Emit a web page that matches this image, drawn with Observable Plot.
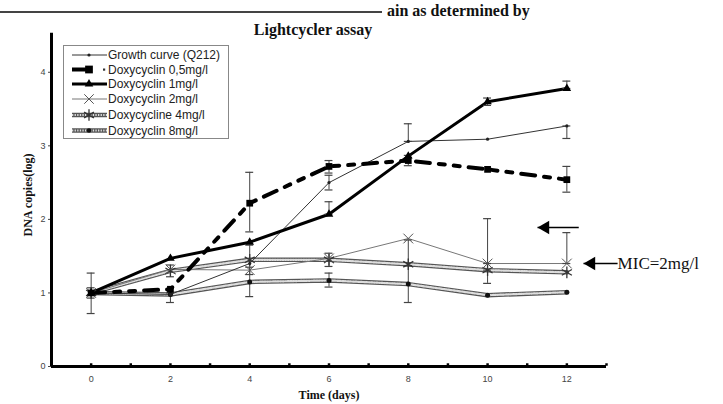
<!DOCTYPE html>
<html>
<head>
<meta charset="utf-8">
<script src="https://cdn.jsdelivr.net/npm/d3@7"></script>
<script src="https://cdn.jsdelivr.net/npm/@observablehq/plot@0.6"></script>
<style>
  html, body { margin: 0; padding: 0; background: #fff; }
  #wrap { position: relative; width: 723px; height: 404px; overflow: hidden; background: #fff; }
  #wrap > svg, #wrap > figure { position: absolute; left: 0; top: 0; }
  .serifb { position: absolute; font-family: "Liberation Serif", "DejaVu Serif", serif; font-weight: bold; color: #111; white-space: nowrap; }
</style>
</head>
<body>
<div id="wrap">
  <div id="plot"></div>
  <div style="position:absolute;left:0;top:11px;width:382px;height:2px;background:#444;"></div>
  <div class="serifb" style="left:387px;top:2px;font-size:16px;">ain as determined by</div>
  <div class="serifb" style="left:313px;top:21px;font-size:16px;transform:translateX(-50%);">Lightcycler assay</div>
  <div class="serifb" style="left:28px;top:195px;font-size:12px;transform:translate(-50%,-50%) rotate(-90deg);">DNA copies(log)</div>
  <div class="serifb" style="left:329px;top:388px;font-size:12px;transform:translateX(-50%);">Time (days)</div>
</div>
<script>
// ---------- data ----------
const days = [0, 2, 4, 6, 8, 10, 12];
const seriesNames = [
  "Growth curve (Q212)",
  "Doxycyclin 0,5mg/l",
  "Doxycyclin 1mg/l",
  "Doxycyclin 2mg/l",
  "Doxycycline 4mg/l",
  "Doxycyclin 8mg/l"
];
const growth = [1.00, 0.98, 1.40, 2.50, 3.06, 3.09, 3.27];
const doxy05 = [1.00, 1.05, 2.22, 2.72, 2.80, 2.68, 2.54];
const doxy1  = [1.00, 1.47, 1.69, 2.07, 2.86, 3.60, 3.78];
const doxy2  = [1.00, 1.32, 1.31, 1.47, 1.74, 1.40, 1.40];
const doxy4  = [1.00, 1.30, 1.45, 1.45, 1.39, 1.31, 1.28];
const doxy8  = [1.00, 0.98, 1.15, 1.17, 1.12, 0.97, 1.01];

// error bars: day, low, high
const errDay  = [0,    0,    2,    2,    4,    4,    4,    6,    6,    6,    6,    6,    8,    8,    8,    8,    10,   10,   10,   12,   12,   12,   12];
const errLow  = [0.72, 0.93, 0.87, 1.22, 1.83, 1.25, 0.95, 2.63, 2.40, 2.07, 1.36, 1.08, 3.06, 2.73, 0.87, 1.37, 1.40, 1.13, 3.55, 3.10, 2.37, 1.40, 3.78];
const errHigh = [1.27, 1.07, 1.00, 1.38, 2.64, 1.65, 1.35, 2.80, 2.60, 2.24, 1.54, 1.27, 3.30, 2.87, 1.37, 1.72, 2.01, 1.31, 3.65, 3.27, 2.72, 1.82, 3.88];

// annotation arrows (data units)
const arrowTail = [12.30, 13.28];
const arrowTip  = [11.26, 12.42];
const arrowY    = [1.89, 1.40];
const arrowText = ["", "MIC=2mg/l"];

const xTicks = [0, 2, 4, 6, 8, 10, 12];
const yTicks = [0, 1, 2, 3, 4];

// ---------- build ----------
const allValues = [growth, doxy05, doxy1, doxy2, doxy4, doxy8];
const rows = [];
seriesNames.forEach((s, i) => days.forEach((d, j) => rows.push({series: s, day: d, value: allValues[i][j]})));
const of = i => rows.filter(r => r.series === seriesNames[i]);
const errs = errDay.map((d, i) => ({day: d, lo: errLow[i], hi: errHigh[i]}));
const arrows = arrowTail.map((t, i) => ({tail: t, tip: arrowTip[i], y: arrowY[i], label: arrowText[i]}));
const minor = d3.range(0, 14);

const serif = "Liberation Serif, DejaVu Serif, serif";
const sans = "Liberation Sans, Arial, sans-serif";

const chart = Plot.plot({
  width: 723,
  height: 404,
  marginLeft: 51,
  marginRight: 117,
  marginTop: 35,
  marginBottom: 38,
  x: {domain: [-1, 13]},
  y: {domain: [0, 4.5]},
  style: {background: "transparent", fontFamily: sans},
  marks: [
    Plot.axisY({ticks: yTicks, tickFormat: "d", tickSize: 3, tickPadding: 3, fontSize: 9, color: "#444", label: null}),
    Plot.axisX({ticks: xTicks, tickFormat: "d", tickSize: 0, tickPadding: 9, fontSize: 9, color: "#444", label: null}),
    // hatched lines (4mg, 8mg)
    Plot.line(of(5), {x: "day", y: "value", stroke: "#555", strokeWidth: 4.5}),
    Plot.line(of(5), {x: "day", y: "value", stroke: "#ddd", strokeWidth: 2.2, strokeDasharray: "1.3,1.3"}),
    Plot.line(of(4), {x: "day", y: "value", stroke: "#555", strokeWidth: 4.5}),
    Plot.line(of(4), {x: "day", y: "value", stroke: "#ddd", strokeWidth: 2.2, strokeDasharray: "1.3,1.3"}),
    // 2mg thin grey
    Plot.line(of(3), {x: "day", y: "value", stroke: "#777", strokeWidth: 1}),
    // growth curve thin dark
    Plot.line(of(0), {x: "day", y: "value", stroke: "#333", strokeWidth: 1}),
    // 1mg thick solid
    Plot.line(of(2), {x: "day", y: "value", stroke: "#000", strokeWidth: 3}),
    // 0.5mg thick dashed
    Plot.line(of(1), {x: "day", y: "value", stroke: "#000", strokeWidth: 4, strokeDasharray: "14,9,6,9,6,9"}),
    // error bars
    Plot.ruleX(errs, {x: "day", y1: "lo", y2: "hi", stroke: "#444", strokeWidth: 1}),
    Plot.ruleY(errs, {y: "lo", x1: d => d.day - 0.1, x2: d => d.day + 0.1, stroke: "#444", strokeWidth: 1.2}),
    Plot.ruleY(errs, {y: "hi", x1: d => d.day - 0.1, x2: d => d.day + 0.1, stroke: "#444", strokeWidth: 1.2}),
    // markers
    Plot.dot(of(5), {x: "day", y: "value", r: 2.5, fill: "#111"}),
    Plot.dot(of(4), {x: "day", y: "value", symbol: "asterisk", r: 5.5, stroke: "#333", strokeWidth: 1.3}),
    Plot.dot(of(3), {x: "day", y: "value", symbol: "times", r: 4.5, stroke: "#555", strokeWidth: 1}),
    Plot.dot(of(0), {x: "day", y: "value", r: 1.6, fill: "#222"}),
    Plot.dot(of(2), {x: "day", y: "value", symbol: "triangle", r: 3.2, fill: "#000"}),
    Plot.dot(of(1), {x: "day", y: "value", symbol: "square", r: 3.8, fill: "#000"}),
    // axes lines
    Plot.ruleX([-1], {y1: 0, y2: 4.53, stroke: "#000", strokeWidth: 3}),
    Plot.ruleY([0], {x1: -1, x2: 13, stroke: "#000", strokeWidth: 3}),
    Plot.dot(minor, {x: d => d, y: 0, symbol: "square", r: 1.4, dy: -2, fill: "#000"}),
    // annotation arrows
    Plot.link(arrows, {x1: "tail", x2: "tip", y1: "y", y2: "y", stroke: "#000", strokeWidth: 1.5}),
    Plot.dot(arrows, {x: "tip", y: "y", symbol: "triangle", r: 5, rotate: -90, dx: 7.8, fill: "#000"}),
    Plot.text(arrows, {x: "tail", y: "y", text: "label", textAnchor: "start", fontFamily: serif, fontSize: 17, fill: "#111", dx: 0})
  ]
});
document.getElementById("plot").appendChild(chart);

// ---------- legend (overlay svg) ----------
const leg = d3.select("#wrap").append("svg")
  .attr("width", 723).attr("height", 404)
  .style("position", "absolute").style("left", "0").style("top", "0");
leg.append("rect").attr("x", 63.5).attr("y", 45.5).attr("width", 165).attr("height", 93)
  .attr("fill", "#fff").attr("stroke", "#888").attr("stroke-width", 1);
const rowY = [55, 69.5, 84, 99, 115, 130.5];
const sx0 = 72, sx1 = 107, mx = 89;
seriesNames.forEach((name, i) => {
  const g = leg.append("g").attr("transform", `translate(0,${rowY[i]})`);
  const line = (x0, x1, stroke, w, dash) => g.append("line").attr("x1", x0).attr("x2", x1).attr("y1", 0).attr("y2", 0)
    .attr("stroke", stroke).attr("stroke-width", w).attr("stroke-dasharray", dash || null);
  const sym = (type, size) => g.append("path").attr("d", d3.symbol(type, size)()).attr("transform", `translate(${mx},0)`);
  if (i === 0) { line(sx0, sx1, "#333", 1); g.append("circle").attr("cx", mx).attr("r", 1.6).attr("fill", "#222"); }
  if (i === 1) { line(sx0, mx, "#000", 4); sym(d3.symbolSquare, 60).attr("fill", "#000"); g.append("rect").attr("x", 103).attr("y", -1).attr("width", 2.2).attr("height", 2.2).attr("fill", "#333"); }
  if (i === 2) { line(sx0, sx1, "#000", 3); sym(d3.symbolTriangle, 32).attr("fill", "#000"); }
  if (i === 3) { line(sx0, sx1, "#777", 1); sym(d3.symbolTimes, 60).attr("fill", "none").attr("stroke", "#555").attr("stroke-width", 1); }
  if (i === 4) { line(sx0, sx1, "#555", 4.5); line(sx0, sx1, "#ddd", 2.2, "1.3,1.3"); sym(d3.symbolAsterisk, 90).attr("fill", "none").attr("stroke", "#333").attr("stroke-width", 1.3); }
  if (i === 5) { line(sx0, sx1, "#555", 4.5); line(sx0, sx1, "#ddd", 2.2, "1.3,1.3"); g.append("circle").attr("cx", mx).attr("r", 2.3).attr("fill", "#111"); }
  g.append("text").attr("x", 108).attr("y", 0).attr("dy", "0.36em")
    .attr("font-family", sans).attr("font-size", 12).attr("fill", "#222").text(name);
});
</script>
</body>
</html>
